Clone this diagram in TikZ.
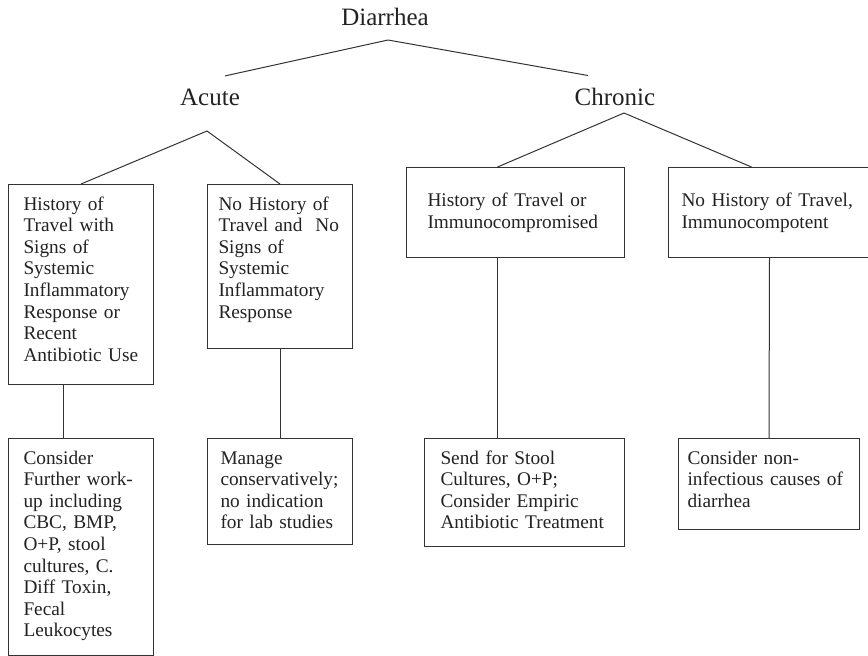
\documentclass[tikz,border=0pt]{standalone}
\usepackage{fontspec}
\setmainfont{Liberation Serif}
\definecolor{c333333}{RGB}{51,51,51}
\definecolor{c222222}{RGB}{34,34,34}
\hyphenpenalty=10000
\tikzset{link/.style={draw=c333333,line width=1pt}}

\begin{document}
\begin{tikzpicture}[x=1pt,y=-1pt]
\useasboundingbox (0,0) rectangle (868,656);
\begin{scope}[every node/.style={text=c222222,inner xsep=0pt,inner ysep=12.5pt,
font=\fontsize{25}{28}\selectfont}]
\node[inner ysep=14pt] (diarrhea) at (385,17) {Diarrhea};
\node (acute) at (210,97) {Acute};
\node (chronic) at (615,97) {Chronic};
\end{scope}
\coordinate (acutefork) at (207,131);
\coordinate (chronicfork) at (624,113);

\begin{scope}[every node/.style={draw=c333333,text=c222222,line width=1pt,anchor=north west,
align=left,inner ysep=0pt,text height=25.5pt,font=\fontsize{19.3}{21.6}\selectfont}]
\node[text width=115pt,inner xsep=15pt,text depth=174.5pt] (acutetravel) at (8,184) {History of\\Travel with\\Signs of\\Systemic\\Inflammatory\\Response or\\Recent\\Antibiotic Use};
\node[text width=123pt,inner xsep=11pt,text depth=138.5pt] (acutenotravel) at (207,184) {No History of\\Travel and\ \ No\\Signs of\\Systemic\\Inflammatory\\Response};
\node[text width=176pt,inner xsep=21pt,text height=39pt,text depth=51pt] (chronictravel) at (406,167) {History of Travel or\\Immunocompromised};
\node[text width=176pt,inner xsep=13pt,text height=39pt,text depth=51pt] (chronicnotravel) at (668,167) {No History of Travel,\\Immunocompotent};
\node[text width=115pt,inner xsep=15pt,text depth=191.5pt] (workup) at (8,438) {Consider\\Further work-\\up including\\CBC, BMP,\\O+P, stool\\cultures, C.\\Diff Toxin,\\Fecal\\Leukocytes};
\node[text width=119pt,inner xsep=13pt,text depth=80.5pt] (conservative) at (207,438) {Manage\\conservatively;\\no indication\\for lab studies};
\node[text width=168pt,inner xsep=16pt,text depth=82.5pt] (stool) at (424,438) {Send for Stool\\Cultures, O+P;\\Consider Empiric\\Antibiotic Treatment};
\node[text width=163pt,inner xsep=9pt,text depth=65.5pt] (noninfectious) at (678,438) {Consider non-\\infectious causes of\\diarrhea};
\end{scope}

\draw[link] ([xshift=3pt]diarrhea.south) -- ([xshift=15pt]acute.north);
\draw[link] ([xshift=3pt]diarrhea.south) -- ([xshift=-27pt]chronic.north);
\draw[link] (acutefork) -- (acutetravel.north);
\draw[link] (acutefork) -- (acutenotravel.north);
\draw[link] (chronicfork) -- ([xshift=-18pt]chronictravel.north);
\draw[link] (chronicfork) -- ([xshift=-18pt]chronicnotravel.north);
\draw[link] ([xshift=-18pt]acutetravel.south) -- ([xshift=-18pt]workup.north);
\draw[link] (acutenotravel.south) -- (conservative.north);
\draw[link] ([xshift=-18pt]chronictravel.south) -- ([xshift=-27pt]stool.north);
\draw[link] (chronicnotravel.south) -- (noninfectious.north);

\end{tikzpicture}
\end{document}
